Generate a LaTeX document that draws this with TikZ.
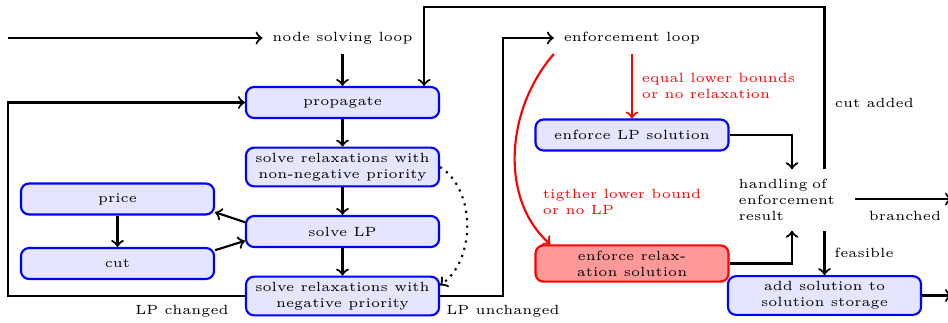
\documentclass[tikz,border=0pt]{standalone}
\begin{document}
\begin{tikzpicture}
      [x = .375pt, y = -.375pt, line width = .8pt, font = \tiny,
       box/.style = {draw = blue, fill = blue!10, rounded corners = 3pt,
         minimum width = 72.4pt, minimum height = 11.6pt, inner ysep = 2pt,
         align = center},
       redbox/.style = {box, draw = red, fill = red!40},
       flow/.style = {->}]
      \useasboundingbox (0,0) rectangle (948,322);
      % node solving loop
      \coordinate (start) at (8,38);
      \node (nodeloop) at (342.5,38) {node solving loop};
      \node[box] (propagate) at (342.5,102.5) {propagate};
      \node[box] (relaxpos) at (342.5,167) {solve relaxations with\\non-negative priority};
      \node[box] (solvelp) at (342.5,231.5) {solve LP};
      \node[box] (relaxneg) at (342.5,296) {solve relaxations with\\negative priority};
      \node[box] (price) at (117.5,199) {price};
      \node[box] (cut) at (117.5,263.5) {cut};
      % enforcement loop
      \node (enfloop) at (632,38) {enforcement loop};
      \node[box] (enflp) at (632,135) {enforce LP solution};
      \node[redbox] (enfrelax) at (632,263.5) {enforce relax-\\ation solution};
      \node[text width = 40pt, align = left] (handling) at (792,200)
        {handling of\\enforcement\\result};
      \node[box] (addsol) at (824.5,295.5) {add solution to\\solution storage};
      \coordinate (chrail) at (8,102.5);
      \coordinate (unchrail) at (503,38);
      \coordinate (toprail) at (423,7);
      \coordinate (cutin) at ([xshift = -6pt]propagate.north east);
      \coordinate (outbranch) at (952,199);
      \coordinate (outsol) at (952,295.5);

      \draw[flow] (start) -- (nodeloop);
      \foreach \a/\b in {nodeloop/propagate, propagate/relaxpos,
                         relaxpos/solvelp, solvelp/relaxneg, price/cut}
        \draw[flow] (\a) -- (\b);
      \draw[flow] ([yshift = 3.5pt]solvelp.west) -- ([yshift = -5pt]price.east);
      \draw[flow] ([yshift = 5pt]cut.east) -- ([yshift = -3.5pt]solvelp.west);
      \draw[flow, dotted] (relaxpos.east) .. controls (476,190) and (476,260)
        .. ([yshift = 4pt]relaxneg.east);
      \draw[flow] (relaxneg.west) -| (chrail) -- (propagate.west);
      \draw[flow] (relaxneg.east) -| (unchrail) -- (enfloop.west);
      \node (lpchanged) at (182,311) {LP changed};
      \node (lpunchanged) at (503,311) {LP unchanged};

      \draw[flow, red] (enfloop) -- (enflp)
        node[midway, right, align = left] (equal) {equal lower bounds\\or no relaxation};
      \draw[flow, red] (enfloop.south west) .. controls (505,110) and (500,200)
        .. ([xshift = 6pt]enfrelax.north west);
      \node[red, right, align = left] (tighter) at (533,202)
        {tigther lower bound\\or no LP};
      \draw[flow] (enflp.east) -| (handling.north);
      \draw[flow] (enfrelax.east) -| (handling.south);
      \draw[flow] (handling.north -| addsol.north) |- (toprail -| cutin) -- (cutin);
      \node[right] (cutadded) at (825,103) {cut added};
      \draw[flow] (handling.east |- outbranch) -- (outbranch);
      \node (branched) at (905,216) {branched};
      \draw[flow] (handling.south -| addsol.north) -- (addsol.north)
        node[midway, right] (feasible) {feasible};
      \draw[flow] (addsol.east) -- (outsol);
    \end{tikzpicture}
\end{document}
